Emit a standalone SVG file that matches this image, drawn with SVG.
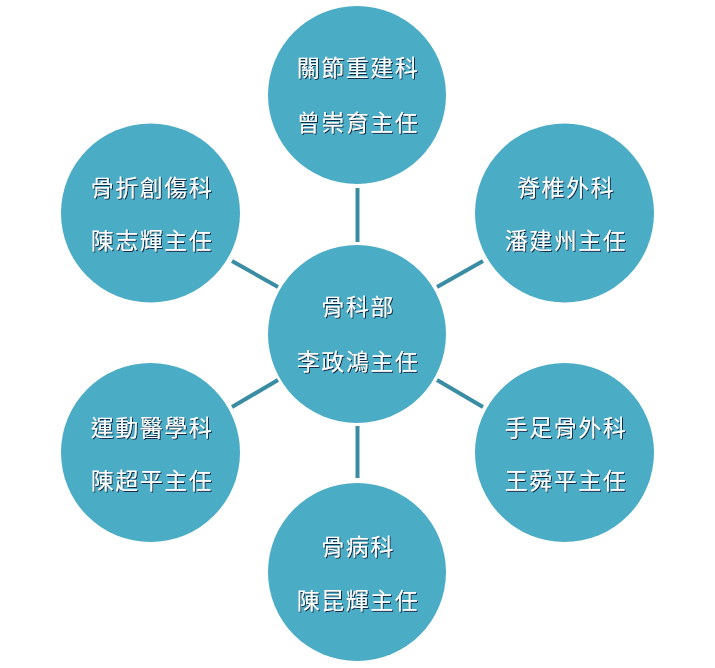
<svg xmlns="http://www.w3.org/2000/svg" width="715" height="668" viewBox="0 0 715 668">
<defs>
<filter id="sh" x="-10%" y="-30%" width="120%" height="160%">
<feDropShadow dx="1" dy="1" stdDeviation="0.3" flood-color="#0a1a3a" flood-opacity="0.9"/>
</filter>
</defs>
<style>
.n{fill:#4BACC6;}
.t{font-family:"Noto Sans CJK TC","Noto Sans CJK SC",sans-serif;font-size:23px;fill:#ffffff;text-anchor:middle;dominant-baseline:central;letter-spacing:1.5px;filter:url(#sh);}
.c{stroke:#3A8CA3;stroke-width:4;fill:none;}
</style>
<rect width="715" height="668" fill="#ffffff"/>
<g id="connectors">
<line class="c" x1="357.5" y1="188" x2="357.5" y2="242"/>
<line class="c" x1="357.5" y1="426" x2="357.5" y2="478"/>
<line class="c" x1="232" y1="261" x2="278" y2="287"/>
<line class="c" x1="483" y1="261" x2="437" y2="287"/>
<line class="c" x1="232" y1="407" x2="278" y2="380"/>
<line class="c" x1="483" y1="407" x2="437" y2="380"/>
</g>
<g id="center">
<circle class="n" cx="357" cy="334" r="89"/>
<text class="t" x="358" y="305">骨科部</text>
<text class="t" x="358" y="360">李政鴻主任</text>
</g>
<g id="top">
<circle class="n" cx="357" cy="95" r="89"/>
<text class="t" x="358" y="66">關節重建科</text>
<text class="t" x="358" y="121">曾崇育主任</text>
</g>
<g id="topleft">
<circle class="n" cx="150.5" cy="213" r="89.5"/>
<text class="t" x="152" y="186">骨折創傷科</text>
<text class="t" x="152" y="239">陳志輝主任</text>
</g>
<g id="topright">
<circle class="n" cx="564.5" cy="213" r="89.5"/>
<text class="t" x="566" y="186">脊椎外科</text>
<text class="t" x="566" y="239">潘建州主任</text>
</g>
<g id="bottomleft">
<circle class="n" cx="150.5" cy="452.5" r="89.5"/>
<text class="t" x="152" y="426">運動醫學科</text>
<text class="t" x="152" y="479">陳超平主任</text>
</g>
<g id="bottomright">
<circle class="n" cx="564.5" cy="452.5" r="89.5"/>
<text class="t" x="566" y="426">手足骨外科</text>
<text class="t" x="566" y="479">王舜平主任</text>
</g>
<g id="bottom">
<circle class="n" cx="357" cy="572" r="89"/>
<text class="t" x="358" y="545">骨病科</text>
<text class="t" x="358" y="599">陳昆輝主任</text>
</g>
</svg>
